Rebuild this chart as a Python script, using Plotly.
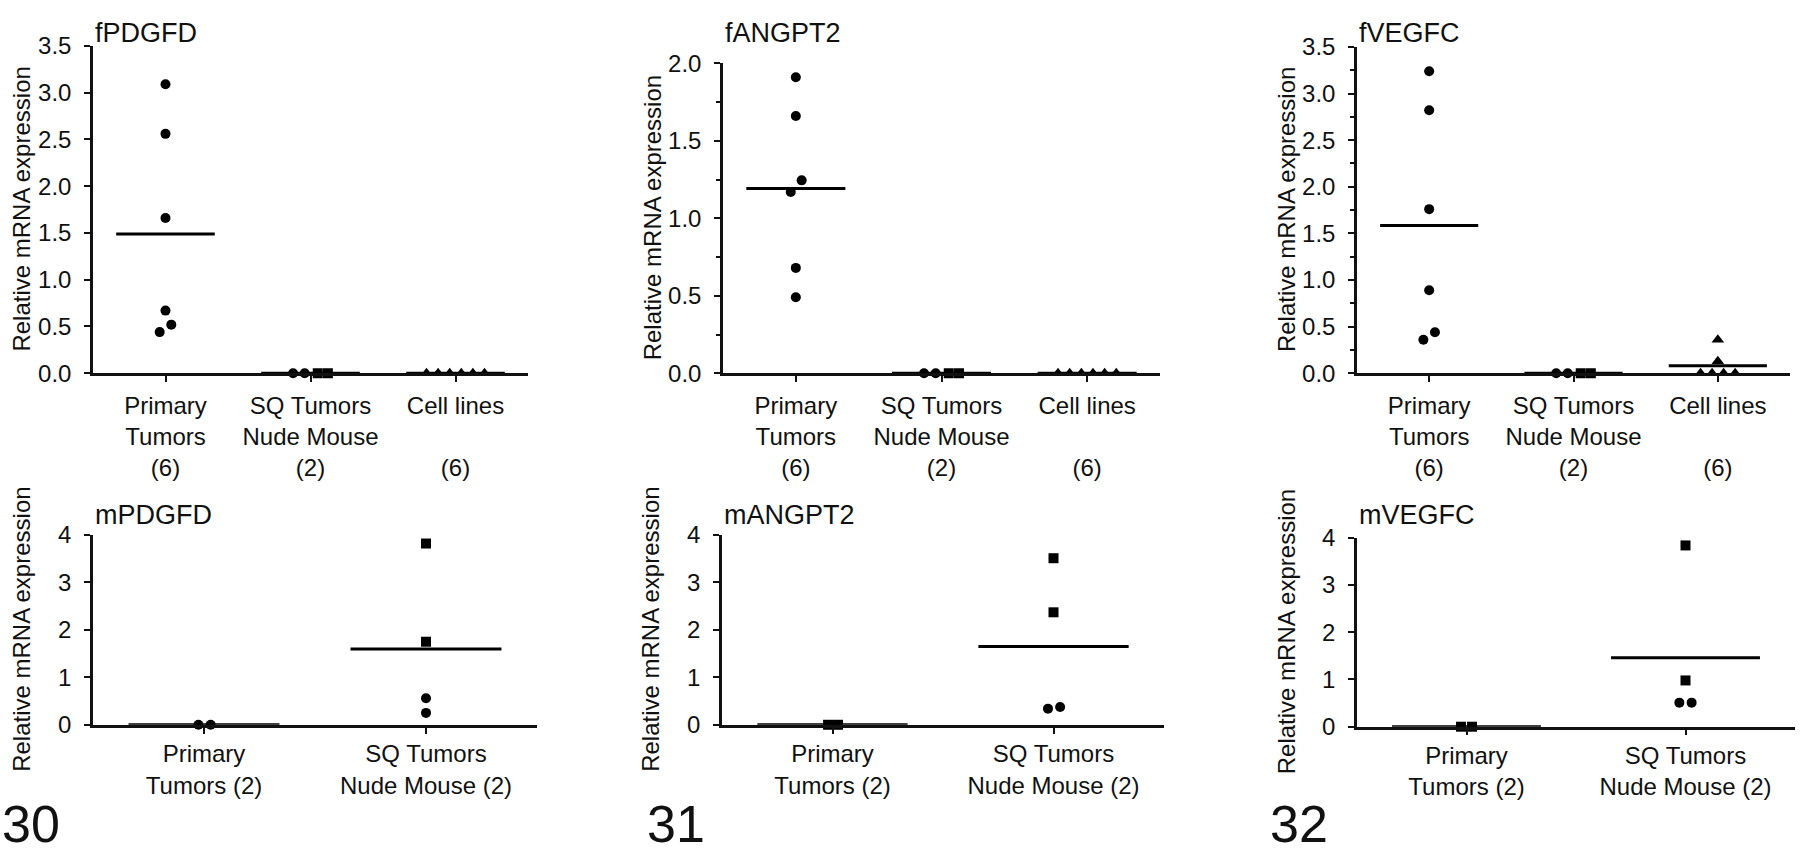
import numpy as np
import plotly.graph_objects as go

# tick labels
top_labels = ["Primary<br>Tumors<br>(6)", "SQ Tumors<br>Nude Mouse<br>(2)", "Cell lines<br> <br>(6)"]
bottom_labels = ["Primary<br>Tumors (2)", "SQ Tumors<br>Nude Mouse (2)"]

# top row (feline genes), relative mRNA expression
fpdgfd_primary = [3.09, 2.56, 1.66, 0.67, 0.52, 0.44]
fpdgfd_sq = [0, 0, 0, 0]
fpdgfd_cells = [0, 0, 0, 0, 0, 0]

fangpt2_primary = [1.91, 1.66, 1.245, 1.17, 0.68, 0.49]
fangpt2_sq = [0, 0, 0, 0]
fangpt2_cells = [0, 0, 0, 0, 0, 0]

fvegfc_primary = [3.24, 2.82, 1.76, 0.89, 0.44, 0.36]
fvegfc_sq = [0, 0, 0, 0]
fvegfc_cells = [0.36, 0.13, 0, 0, 0, 0]

# bottom row (mouse genes)
mpdgfd_primary = [0, 0]
mpdgfd_sq = [3.82, 1.75, 0.56, 0.25]

mangpt2_primary = [0, 0]
mangpt2_sq = [3.51, 2.37, 0.34, 0.375]

mvegfc_primary = [0, 0]
mvegfc_sq = [3.84, 0.98, 0.51, 0.51]

# marker styles / horizontal scatter of the dots (not data)
circ6 = (["circle"] * 6, [0, 0, 0, 0, 0.04, -0.04])
sq4 = (["circle", "circle", "square", "square"], [-0.12, -0.04, 0.05, 0.12])
tri6 = (["triangle-up"] * 6, [-0.2, -0.12, -0.04, 0.04, 0.12, 0.2])

# box = (y-axis x, x-axis end, top, bottom) in pixels
panels = [
    dict(title="fPDGFD", groups=[fpdgfd_primary, fpdgfd_sq, fpdgfd_cells], labels=top_labels,
         ymax=3.5, dtick=0.5, minor=False, fmt=".1f", box=(93, 528, 33, 371),
         styles=[circ6, sq4, tri6]),
    dict(title="fANGPT2", groups=[fangpt2_primary, fangpt2_sq, fangpt2_cells], labels=top_labels,
         ymax=2.0, dtick=0.5, minor=True, fmt=".1f", box=(723, 1160, 51, 371),
         styles=[(["circle"] * 6, [0, 0, 0.04, -0.035, 0, 0]), sq4, tri6]),
    dict(title="fVEGFC", groups=[fvegfc_primary, fvegfc_sq, fvegfc_cells], labels=top_labels,
         ymax=3.5, dtick=0.5, minor=True, fmt=".1f", box=(1357, 1790, 34, 371),
         styles=[circ6, sq4, (["triangle-up"] * 6, [0, 0, -0.12, -0.04, 0.04, 0.12])]),
    dict(title="mPDGFD", groups=[mpdgfd_primary, mpdgfd_sq], labels=bottom_labels,
         ymax=4, dtick=1, minor=False, fmt="d", box=(93, 537, 538, 734),
         styles=[(["circle"] * 2, [-0.025, 0.03]),
                 (["square", "square", "circle", "circle"], [0, 0, 0, 0])]),
    dict(title="mANGPT2", groups=[mangpt2_primary, mangpt2_sq], labels=bottom_labels,
         ymax=4, dtick=1, minor=False, fmt="d", box=(722, 1164, 538, 734),
         styles=[(["square"] * 2, [-0.02, 0.025]),
                 (["square", "square", "circle", "circle"], [0, 0, -0.025, 0.03])]),
    dict(title="mVEGFC", groups=[mvegfc_primary, mvegfc_sq], labels=bottom_labels,
         ymax=4, dtick=1, minor=False, fmt="d", box=(1357, 1795, 541, 736),
         styles=[(["square"] * 2, [-0.025, 0.025]),
                 (["square", "square", "circle", "circle"], [0, 0, -0.028, 0.028])]),
]

W, H = 1800, 853
FONT = "Liberation Sans, Arial, sans-serif"
INK = "#111111"

fig = go.Figure()
layout = dict(width=W, height=H, margin=dict(l=0, r=0, t=0, b=0),
              paper_bgcolor="white", plot_bgcolor="white", showlegend=False,
              font=dict(family=FONT, color=INK, size=24))
annotations = []

for k, p in enumerate(panels):
    n = k + 1
    xa = "x" if n == 1 else "x%d" % n
    ya = "y" if n == 1 else "y%d" % n
    x0, x1, top, bottom = p["box"]
    ncat = len(p["groups"])
    is_top = ncat == 3

    for i, (vals, (symbols, jit)) in enumerate(zip(p["groups"], p["styles"])):
        vals = np.array(vals, dtype=float)
        xs = i + np.array(jit)
        fig.add_trace(go.Scatter(
            x=xs, y=vals, mode="markers", xaxis=xa, yaxis=ya, cliponaxis=False,
            marker=dict(symbol=symbols, size=[11 if s == "triangle-up" else 10 for s in symbols],
                        color="black", opacity=1, line=dict(width=0)),
            hoverinfo="y"))
        m = vals.mean()
        fig.add_trace(go.Scatter(
            x=[i - 0.34, i + 0.34], y=[m, m], mode="lines", xaxis=xa, yaxis=ya,
            cliponaxis=False, line=dict(color="black", width=3), hoverinfo="skip"))

    yminor = dict(dtick=0.25, ticks="outside", ticklen=4, tickwidth=1.5, tickcolor=INK) \
        if p["minor"] else dict(ticks="")
    layout["xaxis" if n == 1 else "xaxis%d" % n] = dict(
        domain=[x0 / W, x1 / W], anchor=ya, range=[-0.5, ncat - 0.5],
        tickmode="array", tickvals=list(range(ncat)), ticktext=p["labels"],
        showline=True, linewidth=2.5, linecolor=INK, ticks="outside", ticklen=6,
        tickwidth=2, tickcolor=INK, showgrid=False, zeroline=False,
        tickfont=dict(size=24), ticklabelstandoff=3 if is_top else 0, fixedrange=True)
    layout["yaxis" if n == 1 else "yaxis%d" % n] = dict(
        domain=[1 - bottom / H, 1 - top / H], anchor=xa, range=[0, p["ymax"]],
        tick0=0, dtick=p["dtick"], tickformat=p["fmt"],
        showline=True, linewidth=2.5, linecolor=INK, ticks="outside", ticklen=6,
        tickwidth=2, tickcolor=INK, showgrid=False, zeroline=False, minor=yminor,
        tickfont=dict(size=24), ticklabelstandoff=8, fixedrange=True)

    # panel title, left-aligned with the y axis
    ty = 2 if is_top else 517
    annotations.append(dict(text=p["title"], x=x0 / W, y=1 - ty / H, xref="paper",
                            yref="paper", xanchor="left",
                            yanchor="top" if is_top else "middle", showarrow=False,
                            font=dict(size=27, color=INK)))
    # y-axis title at a fixed distance left of the axis
    annotations.append(dict(text="Relative mRNA expression", textangle=-90,
                            x=(x0 - 71) / W, y=1 - (top + bottom) / 2 / H,
                            xref="paper", yref="paper", xanchor="center", yanchor="middle",
                            showarrow=False, font=dict(size=24, color=INK)))

for label, xpx in [("30", 0), ("31", 645), ("32", 1268)]:
    annotations.append(dict(text=label, x=xpx / W, y=-16 / H, xref="paper", yref="paper",
                            xanchor="left", yanchor="bottom", showarrow=False,
                            font=dict(size=52, color=INK)))

layout["annotations"] = annotations
fig.update_layout(**layout)

fig.write_html("out.html", config={"displayModeBar": False},
               post_script="document.body.style.margin='0';document.body.style.overflow='hidden';")
